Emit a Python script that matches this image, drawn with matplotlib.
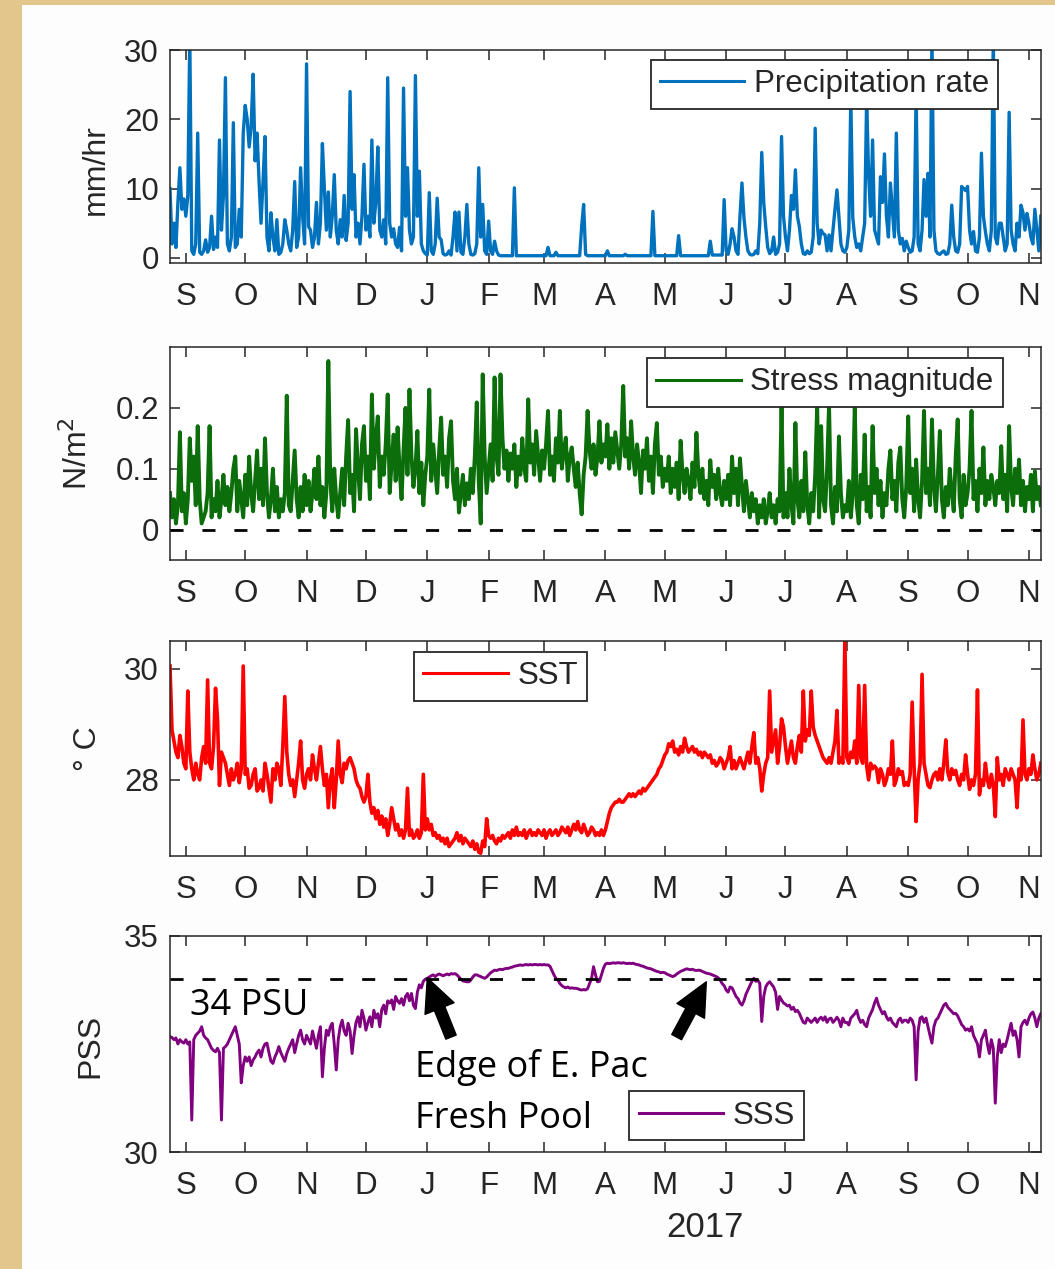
import numpy as np
import matplotlib
matplotlib.use("Agg")
import matplotlib.pyplot as plt
import matplotlib.dates as mdates
from matplotlib.patches import Rectangle

# ── time axis ────────────────────────────────────────────────────────────────
START = np.datetime64("2016-08-24")          # first daily sample
SPAN_DAYS = 440.1                            # visible range
MONTH_TICKS = np.arange("2016-09", "2017-12", dtype="datetime64[M]").astype("datetime64[D]")
MONTH_LETTERS = ["S", "O", "N", "D", "J", "F", "M", "A", "M", "J", "J", "A", "S", "O", "N"]
YEAR_LABEL = "2017"

# ── daily series (one row per month, Aug 24 2016 -> Nov 7 2017) ──────────────
PRECIP = [
    10, 2, 5, 1.5, 8, 13, 7, 8.5,
    6, 9, 32, 1, 0.5, 2, 18, 0.8, 0.5, 1, 2.6, 0.8, 1.5, 6, 1.2, 3, 1.5, 17, 4, 9, 26, 2, 1, 3, 19.5, 1.5, 2, 7, 3, 18,
    22, 20, 16, 19, 26.5, 14, 18, 11, 5, 11, 17.5, 3, 1, 6.5, 3, 1, 5.5, 0.5, 0.8, 2, 5.5, 4, 2, 1, 4, 11, 1.5, 3, 13, 6, 2,
    28, 4.5, 4, 1.5, 3, 8, 2, 5, 16.5, 10, 4, 9.5, 3, 6, 12, 4, 2, 5.5, 3, 9, 2.5, 5, 24, 7, 12, 3, 5, 2, 6, 13.5,
    4, 6, 3, 17, 5, 8, 16, 4, 3, 5.5, 2, 26, 5, 3, 4.2, 2, 1.5, 4.4, 1, 24.5, 6, 13, 4, 2, 3, 26.3, 6, 12.5, 2, 1, 0.6,
    0.4, 9.4, 1, 0.5, 2, 8.6, 3, 2.6, 0.6, 0.4, 0.5, 1, 0.4, 3, 6.6, 1, 6.6, 0.8, 0.5, 3, 7.7, 2, 0.5, 0.4, 0.6, 2, 13, 3, 7.7, 1, 0.5,
    5.3, 1, 0.5, 2.4, 1, 0.4, 0.3, 0.3, 0.3, 0.3, 0.3, 0.3, 0.3, 10.1, 0.3, 0.3, 0.3, 0.3, 0.3, 0.3, 0.3, 0.3, 0.3, 0.3, 0.3, 0.3, 0.3, 0.3,
    0.3, 0.3, 1.5, 0.3, 0.3, 0.3, 0.8, 0.3, 0.3, 0.3, 0.3, 0.3, 0.3, 0.3, 0.3, 0.3, 0.3, 0.3, 0.3, 4.5, 7.7, 0.5, 0.3, 0.3, 0.3, 0.3, 0.3, 0.3, 0.3, 0.3, 0.3,
    0.3, 1.0, 0.3, 0.3, 0.3, 0.3, 0.3, 0.3, 0.3, 0.3, 0.5, 0.3, 0.3, 0.3, 0.3, 0.3, 0.3, 0.3, 0.3, 0.3, 0.3, 0.3, 0.3, 0.3, 6.7, 0.3, 0.3, 0.3, 0.3, 0.3,
    0.3, 0.3, 0.3, 0.3, 0.3, 0.3, 0.3, 3.2, 0.3, 0.3, 0.3, 0.3, 0.3, 0.3, 0.3, 0.3, 0.3, 0.3, 0.3, 0.3, 0.3, 0.3, 0.3, 2.4, 0.4, 0.4, 0.4, 0.4, 0.4, 0.4, 8.4,
    1, 0.5, 2, 4.2, 3, 1, 0.5, 6, 10.8, 5.8, 3, 1, 0.5, 0.4, 0.5, 1, 0.6, 5, 15.2, 8, 4.5, 1.5, 0.6, 1, 3, 0.5, 0.8, 2, 17.5, 6,
    3, 1, 4, 9, 7, 12.7, 6, 4.5, 2, 0.6, 0.5, 1, 0.6, 0.8, 3, 18.7, 5, 2, 4, 3.5, 3.3, 1, 3.3, 1, 4, 7, 9.8, 6, 2, 1, 0.8,
    1.5, 4, 23, 5.8, 3, 1.5, 2, 1, 3, 5, 23, 12, 6, 17, 4, 3, 2, 11.7, 8, 15, 6, 3, 10.8, 7, 3, 18, 4, 2, 2.8, 1, 2.4,
    1.5, 0.8, 1, 3, 24, 2, 1, 4, 11.3, 6, 12.2, 3, 32, 4, 1, 0.6, 0.5, 0.8, 1, 0.5, 0.6, 2, 7.6, 3, 1, 0.8, 2, 10.3, 10, 9.7,
    10.3, 4, 2, 3.8, 1, 0.8, 3, 15.1, 6, 3.8, 2, 1, 4, 32, 3, 2, 5, 5, 3, 1, 2, 21, 4, 2, 1, 5, 3, 7.6, 6.5, 4, 6.4,
    5, 3, 2, 7, 4, 1, 6,
]

STRESS = [
    0.06, 0.02, 0.05, 0.01, 0.04, 0.16, 0.03, 0.06,
    0.01, 0.05, 0.15, 0.08, 0.12, 0.04, 0.17, 0.05, 0.01, 0.02, 0.03, 0.06, 0.17, 0.02, 0.05, 0.03, 0.08, 0.02, 0.05, 0.09, 0.04, 0.07, 0.03, 0.06, 0.1, 0.12, 0.03, 0.08, 0.05, 0.02,
    0.09, 0.04, 0.12, 0.06, 0.03, 0.08, 0.13, 0.05, 0.1, 0.04, 0.15, 0.06, 0.02, 0.05, 0.1, 0.03, 0.07, 0.02, 0.05, 0.03, 0.06, 0.22, 0.04, 0.03, 0.08, 0.13, 0.05, 0.02, 0.07, 0.03, 0.09,
    0.04, 0.08, 0.03, 0.06, 0.1, 0.05, 0.12, 0.04, 0.07, 0.02, 0.06, 0.277, 0.08, 0.03, 0.1, 0.05, 0.02, 0.06, 0.1, 0.04, 0.12, 0.18, 0.06, 0.09, 0.03, 0.165, 0.1, 0.05, 0.14, 0.17,
    0.08, 0.12, 0.05, 0.222, 0.1, 0.15, 0.186, 0.07, 0.12, 0.09, 0.14, 0.222, 0.06, 0.11, 0.156, 0.08, 0.168, 0.1, 0.05, 0.13, 0.2, 0.09, 0.23, 0.12, 0.07, 0.1, 0.162, 0.06, 0.11, 0.04, 0.09,
    0.12, 0.23, 0.08, 0.14, 0.1, 0.06, 0.13, 0.184, 0.09, 0.12, 0.07, 0.15, 0.178, 0.08, 0.05, 0.1, 0.028, 0.06, 0.09, 0.04, 0.076, 0.05, 0.1, 0.06, 0.12, 0.209, 0.08, 0.01, 0.255, 0.12, 0.06,
    0.1, 0.14, 0.08, 0.25, 0.12, 0.09, 0.255, 0.15, 0.1, 0.13, 0.08, 0.125, 0.1, 0.14, 0.07, 0.12, 0.09, 0.15, 0.1, 0.08, 0.214, 0.11, 0.14, 0.09, 0.162, 0.12, 0.08, 0.13,
    0.1, 0.14, 0.195, 0.09, 0.12, 0.08, 0.15, 0.11, 0.195, 0.1, 0.13, 0.151, 0.08, 0.12, 0.135, 0.1, 0.07, 0.11, 0.06, 0.025, 0.09, 0.12, 0.195, 0.13, 0.1, 0.14, 0.09, 0.12, 0.178, 0.11, 0.14,
    0.12, 0.173, 0.1, 0.15, 0.11, 0.16, 0.13, 0.1, 0.14, 0.236, 0.12, 0.15, 0.1, 0.178, 0.12, 0.09, 0.14, 0.11, 0.06, 0.13, 0.1, 0.15, 0.08, 0.12, 0.06, 0.14, 0.175, 0.09, 0.12, 0.07,
    0.1, 0.08, 0.12, 0.06, 0.1, 0.07, 0.11, 0.05, 0.146, 0.09, 0.06, 0.1, 0.08, 0.05, 0.11, 0.07, 0.159, 0.09, 0.06, 0.1, 0.05, 0.08, 0.04, 0.114, 0.07, 0.09, 0.05, 0.1, 0.06, 0.04, 0.08,
    0.05, 0.09, 0.04, 0.12, 0.06, 0.1, 0.04, 0.117, 0.07, 0.03, 0.08, 0.05, 0.02, 0.06, 0.03, 0.05, 0.01, 0.04, 0.02, 0.05, 0.01, 0.03, 0.06, 0.02, 0.04, 0.01, 0.05, 0.03, 0.203, 0.02,
    0.06, 0.02, 0.1, 0.04, 0.01, 0.175, 0.05, 0.02, 0.08, 0.03, 0.127, 0.04, 0.01, 0.06, 0.03, 0.09, 0.205, 0.02, 0.17, 0.05, 0.03, 0.1, 0.205, 0.04, 0.01, 0.07, 0.03, 0.153, 0.06, 0.02, 0.04,
    0.03, 0.08, 0.02, 0.06, 0.205, 0.04, 0.01, 0.09, 0.05, 0.156, 0.03, 0.07, 0.02, 0.17, 0.06, 0.1, 0.04, 0.08, 0.02, 0.06, 0.04, 0.1, 0.13, 0.05, 0.08, 0.03, 0.11, 0.135, 0.05, 0.02, 0.07,
    0.186, 0.06, 0.1, 0.03, 0.115, 0.05, 0.02, 0.08, 0.195, 0.06, 0.1, 0.04, 0.181, 0.07, 0.03, 0.09, 0.162, 0.05, 0.02, 0.07, 0.04, 0.1, 0.06, 0.03, 0.12, 0.181, 0.05, 0.02, 0.09, 0.04,
    0.06, 0.1, 0.195, 0.05, 0.08, 0.03, 0.1, 0.06, 0.135, 0.04, 0.08, 0.05, 0.09, 0.07, 0.04, 0.08, 0.06, 0.137, 0.05, 0.09, 0.03, 0.17, 0.07, 0.04, 0.1, 0.06, 0.115, 0.04, 0.08, 0.03, 0.07,
    0.05, 0.09, 0.03, 0.096, 0.05, 0.07, 0.04,
]

SST = [
    30.05, 28.9, 28.7, 28.5, 28.4, 28.8, 28.6, 28.3,
    28.2, 29.6, 28.5, 28.2, 28.0, 28.3, 28.1, 28.0, 28.4, 28.6, 28.3, 29.8, 28.3, 28.2, 28.6, 29.65, 29.1, 27.9, 28.5, 28.4, 28.3, 28.1, 27.9, 28.2, 28.0, 28.1, 28.3, 27.95, 28.2, 30.05,
    28.1, 28.2, 27.85, 27.9, 28.1, 28.2, 27.8, 27.85, 28.0, 27.8, 28.3, 28.1, 27.85, 27.6, 28.2, 28.0, 28.3, 28.2, 27.9, 28.6, 29.5, 28.5, 28.1, 27.9, 28.0, 27.7, 28.0, 28.3, 28.7, 28.0, 27.85,
    28.1, 28.2, 28.0, 28.45, 28.2, 28.0, 28.3, 28.6, 28.2, 27.9, 28.1, 27.5, 28.0, 28.2, 27.5, 28.0, 28.7, 28.1, 27.95, 28.3, 28.2, 28.35, 28.4, 28.3, 28.2, 28.0, 27.9, 27.85, 27.7, 27.6,
    27.7, 28.1, 27.6, 27.4, 27.5, 27.3, 27.45, 27.2, 27.35, 27.15, 27.3, 27.0, 27.2, 27.5, 27.3, 27.1, 27.2, 27.0, 27.1, 26.95, 27.1, 27.85, 27.0, 27.1, 26.95, 27.0, 27.1, 26.95, 27.05, 28.1, 27.1,
    27.3, 27.1, 27.2, 27.0, 27.05, 26.95, 27.0, 26.9, 26.95, 26.85, 26.95, 26.8, 26.85, 26.9, 26.95, 27.05, 26.9, 27.0, 26.85, 26.95, 26.9, 26.85, 26.8, 26.9, 26.75, 26.85, 26.7, 26.68, 26.9, 26.8, 27.3,
    27.0, 26.95, 27.0, 26.9, 26.85, 26.95, 26.9, 27.0, 26.95, 27.0, 27.05, 26.95, 27.1, 27.0, 27.15, 27.0, 27.05, 27.0, 27.1, 26.95, 27.05, 27.1, 27.0, 27.05, 27.0, 27.1, 27.05, 27.0,
    27.1, 26.95, 27.05, 27.1, 27.0, 27.05, 27.1, 27.0, 27.05, 27.15, 27.1, 27.05, 27.15, 27.0, 27.1, 27.2, 27.1, 27.25, 27.1, 27.05, 27.2, 27.1, 27.0, 27.05, 27.15, 27.1, 27.0, 27.05, 27.0, 27.1, 27.0,
    27.1, 27.25, 27.4, 27.5, 27.55, 27.6, 27.6, 27.65, 27.6, 27.6, 27.65, 27.7, 27.75, 27.7, 27.75, 27.7, 27.75, 27.8, 27.75, 27.85, 27.8, 27.85, 27.9, 27.95, 28.0, 28.05, 28.1, 28.2, 28.25, 28.35,
    28.45, 28.5, 28.65, 28.6, 28.7, 28.5, 28.55, 28.45, 28.6, 28.5, 28.75, 28.6, 28.5, 28.55, 28.6, 28.5, 28.55, 28.45, 28.5, 28.4, 28.5, 28.45, 28.4, 28.45, 28.3, 28.35, 28.25, 28.3, 28.4, 28.35, 28.2,
    28.3, 28.4, 28.6, 28.2, 28.35, 28.2, 28.3, 28.4, 28.3, 28.2, 28.35, 28.5, 28.3, 28.6, 28.85, 28.3, 28.4, 28.2, 27.8, 28.1, 28.3, 28.4, 29.6, 28.5, 28.7, 28.9, 28.3, 28.6, 29.1, 28.95,
    28.6, 28.3, 28.5, 28.7, 28.4, 28.3, 28.6, 28.8, 28.5, 29.6, 28.7, 28.9, 28.8, 29.6, 28.95, 28.8, 28.7, 28.6, 28.5, 28.4, 28.35, 28.3, 28.4, 28.3, 28.5, 28.7, 29.25, 28.3, 28.4, 28.3, 30.5,
    28.4, 28.3, 28.5, 28.4, 28.7, 28.3, 29.7, 28.4, 28.3, 29.7, 28.25, 28.0, 28.3, 28.2, 28.25, 28.2, 27.95, 28.2, 28.1, 27.9, 28.0, 28.2, 28.1, 28.7, 27.9, 28.0, 28.2, 28.1, 28.15, 27.9, 27.95,
    27.9, 28.1, 29.4, 28.2, 27.25, 28.0, 28.3, 29.9, 28.3, 28.1, 27.9, 27.86, 28.0, 28.1, 28.14, 28.0, 28.2, 28.0, 28.3, 28.72, 28.14, 28.0, 28.2, 28.1, 28.17, 28.0, 27.9, 28.1, 28.0, 28.45,
    28.1, 27.83, 28.0, 27.9, 28.1, 29.62, 27.73, 28.0, 27.9, 28.3, 28.0, 27.86, 28.1, 27.9, 27.34, 28.4, 28.0, 28.1, 27.9, 28.2, 28.1, 28.0, 28.2, 28.1, 28.0, 27.5, 28.2, 28.0, 29.08, 28.1, 28.0,
    28.2, 28.1, 28.45, 28.2, 28.0, 28.1, 28.3,
]

SSS = [
    32.67, 32.65, 32.6, 32.64, 32.5, 32.6, 32.55, 32.52,
    32.6, 32.5, 32.55, 30.74, 32.6, 32.7, 32.75, 32.8, 32.9, 32.7, 32.64, 32.6, 32.5, 32.4, 32.35, 32.32, 32.4, 32.3, 30.74, 32.4, 32.44, 32.5, 32.6, 32.7, 32.8, 32.9, 32.7, 32.5, 31.6, 32.0,
    32.2, 32.1, 32.2, 32.0, 32.13, 32.2, 32.3, 32.36, 32.2, 32.4, 32.5, 32.52, 32.3, 32.1, 32.05, 32.2, 32.3, 32.44, 32.3, 32.2, 32.1, 32.28, 32.4, 32.5, 32.6, 32.3, 32.5, 32.7, 32.82, 32.6, 32.5,
    32.7, 32.6, 32.5, 32.8, 32.6, 32.4, 32.7, 32.9, 31.74, 32.4, 32.82, 32.7, 32.9, 32.98, 32.5, 31.9, 32.6, 32.9, 33.05, 32.8, 32.7, 32.98, 32.8, 32.28, 32.7, 33.0, 33.13, 32.9, 33.28, 33.1,
    32.82, 33.0, 33.13, 32.9, 33.28, 33.1, 33.2, 32.9, 33.3, 33.4, 33.2, 33.5, 33.45, 33.52, 33.3, 33.6, 33.5, 33.44, 33.55, 33.4, 33.6, 33.67, 33.5, 33.67, 33.4, 33.32, 33.7, 33.87, 33.8, 33.95, 34.0,
    34.02, 34.05, 34.08, 34.1, 34.06, 34.1, 34.12, 34.1, 34.08, 34.1, 34.12, 34.1, 34.13, 34.12, 34.13, 34.1, 34.05, 34.0, 33.96, 33.95, 33.94, 33.94, 33.98, 34.05, 34.1, 34.1, 34.08, 34.06, 34.04, 34.02, 34.05,
    34.1, 34.15, 34.18, 34.21, 34.2, 34.22, 34.23, 34.22, 34.24, 34.25, 34.25, 34.27, 34.28, 34.3, 34.31, 34.32, 34.33, 34.32, 34.33, 34.34, 34.33, 34.34, 34.33, 34.34, 34.34, 34.33, 34.34, 34.33,
    34.34, 34.33, 34.33, 34.3, 34.2, 34.1, 34.02, 33.98, 33.9, 33.85, 33.82, 33.8, 33.82, 33.79, 33.8, 33.79, 33.79, 33.78, 33.76, 33.75, 33.76, 33.75, 33.78, 33.9, 34.02, 34.29, 34.1, 33.94, 33.95, 34.1, 34.25,
    34.35, 34.37, 34.36, 34.37, 34.38, 34.37, 34.38, 34.38, 34.37, 34.38, 34.37, 34.36, 34.37, 34.36, 34.37, 34.35, 34.34, 34.33, 34.31, 34.3, 34.28, 34.26, 34.25, 34.24, 34.22, 34.2, 34.18, 34.17, 34.15, 34.16,
    34.15, 34.12, 34.1, 34.08, 34.06, 34.08, 34.12, 34.15, 34.18, 34.2, 34.22, 34.24, 34.23, 34.22, 34.23, 34.21, 34.2, 34.21, 34.2, 34.18, 34.16, 34.14, 34.13, 34.12, 34.1, 34.08, 34.06, 34.03, 33.98, 33.9, 33.85,
    33.75, 33.7, 33.82, 33.8, 33.7, 33.6, 33.55, 33.45, 33.4, 33.5, 33.65, 33.75, 33.85, 33.95, 34.02, 33.95, 33.98, 33.9, 33.02, 33.6, 33.82, 33.9, 33.94, 33.88, 33.82, 33.7, 33.3, 33.6, 33.52, 33.45,
    33.42, 33.38, 33.4, 33.3, 33.35, 33.25, 33.28, 33.21, 33.1, 33.0, 32.98, 33.1, 33.05, 33.0, 33.05, 33.1, 33.0, 33.08, 33.12, 33.05, 33.13, 33.0, 33.08, 33.1, 33.0, 33.05, 33.12, 33.05, 32.9, 33.1, 33.0,
    33.0, 32.94, 33.1, 33.15, 33.2, 33.28, 33.1, 33.0, 33.05, 32.95, 32.9, 33.1, 33.2, 33.3, 33.45, 33.56, 33.4, 33.3, 33.2, 33.25, 33.13, 33.05, 33.1, 33.0, 32.95, 32.9, 33.05, 33.1, 33.0, 33.05, 33.05,
    33.0, 33.1, 33.05, 32.9, 31.67, 32.8, 33.1, 33.13, 33.0, 33.1, 32.9, 32.7, 32.52, 32.9, 33.05, 33.1, 33.2, 33.3, 33.4, 33.44, 33.35, 33.3, 33.25, 33.2, 33.21, 33.15, 33.05, 32.95, 32.9, 32.82,
    32.85, 32.8, 32.9, 32.7, 32.6, 32.5, 32.2, 32.6, 32.7, 32.82, 32.5, 32.28, 32.6, 32.4, 31.13, 32.2, 32.6, 32.3, 32.5, 32.44, 32.6, 32.8, 32.98, 32.7, 32.8, 32.6, 32.2, 32.9, 33.0, 33.05, 32.95,
    33.1, 33.2, 33.24, 33.1, 32.9, 33.1, 33.2,
]

FRESH_POOL_LEVEL = 34

# ── styling ──────────────────────────────────────────────────────────────────
TAN = "#E2C68C"
AX_COLOR = "#262626"
plt.rcParams["font.family"] = ["Liberation Sans", "DejaVu Sans"]
plt.rcParams["axes.linewidth"] = 1.1

W, H = 1055, 1269


def days(series):
    return START + np.arange(len(series)).astype("timedelta64[D]")


def style_axis(ax, yticks, yticklabels, ylim):
    x0 = mdates.date2num(START)
    ax.set_xlim(x0, x0 + SPAN_DAYS)
    ax.set_ylim(*ylim)
    ax.set_xticks(MONTH_TICKS)
    ax.set_xticklabels(MONTH_LETTERS)
    ax.set_yticks(yticks)
    ax.set_yticklabels(yticklabels)
    ax.tick_params(direction="in", top=True, right=True, length=7.5, width=1.1,
                   color=AX_COLOR, labelcolor=AX_COLOR, labelsize=22.5)
    ax.tick_params(axis="x", pad=14)
    ax.tick_params(axis="y", pad=8)
    for s in ax.spines.values():
        s.set_color(AX_COLOR)


def add_legend(ax, handle, anchor, loc):
    leg = ax.legend(handles=[handle], loc=loc, bbox_to_anchor=anchor,
                    fontsize=22.5, frameon=True, fancybox=False, framealpha=1,
                    edgecolor=AX_COLOR, borderaxespad=0, borderpad=0.3,
                    handlelength=2.7, handletextpad=0.3)
    leg.get_frame().set_linewidth(1.3)
    for line in leg.get_lines():
        line.set_linewidth(2.2)
    for t in leg.get_texts():
        t.set_color(AX_COLOR)


def set_ylabel(ax, text, xfrac, yfrac):
    ax.set_ylabel(text, fontsize=23, color=AX_COLOR)
    ax.yaxis.label.set_va("center")
    ax.yaxis.set_label_coords(xfrac, yfrac)


fig = plt.figure(figsize=(W / 100, H / 100), dpi=100)
fig.patch.set_facecolor(TAN)
fig.add_artist(Rectangle((22 / W, 0), 1 - 22 / W, 1 - 5 / H, transform=fig.transFigure,
                         facecolor="#FDFDFD", edgecolor="none", zorder=0))

left, width = 170 / W, 871 / W
boxes = [(50, 263), (347, 560), (641, 856), (936, 1152)]
axes = [fig.add_axes([left, 1 - b / H, width, (b - t) / H]) for t, b in boxes]
ax1, ax2, ax3, ax4 = axes

# ── Precipitation ────────────────────────────────────────────────────────────
l1, = ax1.plot(days(PRECIP), PRECIP, color="#0072BD", lw=2.4, label="Precipitation rate")
style_axis(ax1, [0, 10, 20, 30], ["0", "10", "20", "30"], (-0.75, 30))
set_ylabel(ax1, "mm/hr", -0.085, 0.44)
add_legend(ax1, l1, (0.951, 0.953), "upper right")

# ── Stress ───────────────────────────────────────────────────────────────────
l2, = ax2.plot(days(STRESS), STRESS, color="#0B6E0B", lw=2.8, label="Stress magnitude")
ax2.axhline(0, color="black", lw=2, ls=(0, (4.7, 6.8)), zorder=3)
style_axis(ax2, [0, 0.1, 0.2], ["0", "0.1", "0.2"], (-0.05, 0.3))
set_ylabel(ax2, "N/m$^2$", -0.106, 0.5)
add_legend(ax2, l2, (0.956, 0.948), "upper right")

# ── SST ──────────────────────────────────────────────────────────────────────
l3, = ax3.plot(days(SST), SST, color="#FF0000", lw=2.6, label="SST")
style_axis(ax3, [28, 30], ["28", "30"], (26.63, 30.5))
set_ylabel(ax3, "° C", -0.094, 0.5)
add_legend(ax3, l3, (0.479, 0.949), "upper right")

# ── SSS ──────────────────────────────────────────────────────────────────────
l4, = ax4.plot(days(SSS), SSS, color="#800080", lw=2.1, label="SSS")
ax4.axhline(FRESH_POOL_LEVEL, color="black", lw=2, ls=(0, (4.7, 6.8)), zorder=3)
style_axis(ax4, [30, 35], ["30", "35"], (30, 35))
set_ylabel(ax4, "PSS", -0.091, 0.49)
add_legend(ax4, l4, (0.728, 0.056), "lower right")
ax4.text(0.614, -0.35, YEAR_LABEL, transform=ax4.transAxes, ha="center", va="center",
         fontsize=25, color=AX_COLOR)

note_font = dict(family=["Open Sans", "DejaVu Sans"], fontsize=26, color="black")
ax4.text(0.023, 0.634, "34 PSU", transform=ax4.transAxes, va="baseline", **note_font)
ax4.text(0.281, 0.347, "Edge of E. Pac", transform=ax4.transAxes, va="baseline", **note_font)
ax4.text(0.281, 0.111, "Fresh Pool", transform=ax4.transAxes, va="baseline", **note_font)

arrow = dict(arrowstyle="simple,head_length=0.95,head_width=0.9,tail_width=0.32",
             color="black", shrinkA=0, shrinkB=0, mutation_scale=25)
ax4.annotate("", xy=(np.datetime64("2017-01-01"), 34.03), xytext=(np.datetime64("2017-01-13"), 32.66),
             arrowprops=arrow, annotation_clip=False)
ax4.annotate("", xy=(np.datetime64("2017-05-22"), 33.94), xytext=(np.datetime64("2017-05-07"), 32.66),
             arrowprops=arrow, annotation_clip=False)

fig.savefig("out.png", dpi=100, facecolor=fig.get_facecolor())
